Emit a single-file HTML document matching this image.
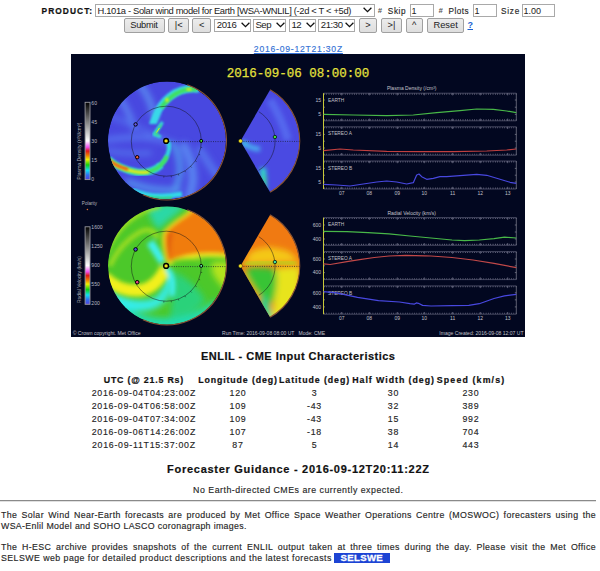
<!DOCTYPE html>
<html><head><meta charset="utf-8"><style>
html,body{margin:0;padding:0;background:#fff;}
body{width:600px;height:571px;position:relative;overflow:hidden;font-family:"Liberation Sans", sans-serif;}
.t{position:absolute;white-space:pre;line-height:1;}
.j{white-space:normal;text-align:justify;text-align-last:justify;}
</style></head><body>
<div class="t" style="left:41.60px;top:7.09px;font-size:8.4px;font-weight:bold;color:#111;letter-spacing:1.04px;font-family:'Liberation Sans', sans-serif;-webkit-text-stroke:0.2px #111;">PRODUCT:</div>
<div style="position:absolute;left:95px;top:4px;width:280.3px;height:13px;box-sizing:border-box;background:#fff;border:1px solid #a9a9a9;"></div>
<div class="t" style="left:97.50px;top:5.84px;font-size:9.4px;font-weight:normal;color:#222;letter-spacing:-0.34px;font-family:'Liberation Sans', sans-serif;">H.101a - Solar wind model for Earth [WSA-WNLIL] (-2d &lt; T &lt; +5d)</div>
<div style="position:absolute;left:363.4px;top:7.4px;line-height:0"><svg width="9" height="5.5" viewBox="0 0 9 5.5"><path d="M0.6 0.7 L4.5 4.6 L8.4 0.7" fill="none" stroke="#111" stroke-width="1.3"/></svg></div>
<div class="t" style="left:377.80px;top:6.57px;font-size:7.6px;font-weight:bold;color:#555;letter-spacing:0px;font-family:'Liberation Sans', sans-serif;font-style:italic;">#</div>
<div class="t" style="left:387.80px;top:8.06px;font-size:8.2px;font-weight:normal;color:#222;letter-spacing:0.62px;font-family:'Liberation Sans', sans-serif;-webkit-text-stroke:0.15px #333;">Skip</div>
<div style="position:absolute;left:409.6px;top:4px;width:24.799999999999955px;height:13.3px;box-sizing:border-box;background:#fff;border:1px solid #a9a9a9;"></div>
<div class="t" style="left:411.50px;top:6.78px;font-size:9px;font-weight:normal;color:#222;letter-spacing:0px;font-family:'Liberation Sans', sans-serif;">1</div>
<div class="t" style="left:438.40px;top:6.57px;font-size:7.6px;font-weight:bold;color:#555;letter-spacing:0px;font-family:'Liberation Sans', sans-serif;font-style:italic;">#</div>
<div class="t" style="left:448.50px;top:8.06px;font-size:8.2px;font-weight:normal;color:#222;letter-spacing:0.45px;font-family:'Liberation Sans', sans-serif;-webkit-text-stroke:0.15px #333;">Plots</div>
<div style="position:absolute;left:472.6px;top:4px;width:24.799999999999955px;height:13.3px;box-sizing:border-box;background:#fff;border:1px solid #a9a9a9;"></div>
<div class="t" style="left:474.50px;top:6.78px;font-size:9px;font-weight:normal;color:#222;letter-spacing:0px;font-family:'Liberation Sans', sans-serif;">1</div>
<div class="t" style="left:501.10px;top:8.06px;font-size:8.2px;font-weight:normal;color:#222;letter-spacing:0.75px;font-family:'Liberation Sans', sans-serif;-webkit-text-stroke:0.15px #333;">Size</div>
<div style="position:absolute;left:521.6px;top:4px;width:33.799999999999955px;height:13.3px;box-sizing:border-box;background:#fff;border:1px solid #a9a9a9;"></div>
<div class="t" style="left:523.50px;top:6.78px;font-size:9px;font-weight:normal;color:#222;letter-spacing:0px;font-family:'Liberation Sans', sans-serif;">1.00</div>
<div style="position:absolute;left:123.5px;top:17.8px;width:41.0px;height:14.999999999999996px;box-sizing:border-box;background:linear-gradient(#ececec,#dedede);border:1px solid #a0a0a0;border-radius:2px;"></div>
<div class="t" style="left:-156.15px;width:600px;text-align:center;top:20.93px;font-size:9.3px;font-weight:normal;color:#222;letter-spacing:-0.29px;font-family:'Liberation Sans', sans-serif;">Submit</div>
<div style="position:absolute;left:168.4px;top:17.8px;width:20.599999999999994px;height:14.999999999999996px;box-sizing:border-box;background:linear-gradient(#ececec,#dedede);border:1px solid #a0a0a0;border-radius:2px;"></div>
<div class="t" style="left:-121.30px;width:600px;text-align:center;top:20.93px;font-size:9.3px;font-weight:normal;color:#222;letter-spacing:0px;font-family:'Liberation Sans', sans-serif;">|&lt;</div>
<div style="position:absolute;left:192.4px;top:17.8px;width:18.599999999999994px;height:14.999999999999996px;box-sizing:border-box;background:linear-gradient(#ececec,#dedede);border:1px solid #a0a0a0;border-radius:2px;"></div>
<div class="t" style="left:-98.30px;width:600px;text-align:center;top:20.93px;font-size:9.3px;font-weight:normal;color:#222;letter-spacing:0px;font-family:'Liberation Sans', sans-serif;">&lt;</div>
<div style="position:absolute;left:214.4px;top:18.8px;width:36.599999999999994px;height:13.400000000000002px;box-sizing:border-box;background:#fff;border:1px solid #a9a9a9;"></div>
<div class="t" style="left:216.80px;top:20.47px;font-size:9.6px;font-weight:normal;color:#222;letter-spacing:-0.45px;font-family:'Liberation Sans', sans-serif;">2016</div>
<div style="position:absolute;left:241.2px;top:22.3px;line-height:0"><svg width="9" height="5.5" viewBox="0 0 9 5.5"><path d="M0.6 0.7 L4.5 4.6 L8.4 0.7" fill="none" stroke="#111" stroke-width="1.3"/></svg></div>
<div style="position:absolute;left:253px;top:18.8px;width:32.60000000000002px;height:13.400000000000002px;box-sizing:border-box;background:#fff;border:1px solid #a9a9a9;"></div>
<div class="t" style="left:255.40px;top:20.47px;font-size:9.6px;font-weight:normal;color:#222;letter-spacing:-0.45px;font-family:'Liberation Sans', sans-serif;">Sep</div>
<div style="position:absolute;left:275.8px;top:22.3px;line-height:0"><svg width="9" height="5.5" viewBox="0 0 9 5.5"><path d="M0.6 0.7 L4.5 4.6 L8.4 0.7" fill="none" stroke="#111" stroke-width="1.3"/></svg></div>
<div style="position:absolute;left:289px;top:18.8px;width:27px;height:13.400000000000002px;box-sizing:border-box;background:#fff;border:1px solid #a9a9a9;"></div>
<div class="t" style="left:291.40px;top:20.47px;font-size:9.6px;font-weight:normal;color:#222;letter-spacing:-0.45px;font-family:'Liberation Sans', sans-serif;">12</div>
<div style="position:absolute;left:306.2px;top:22.3px;line-height:0"><svg width="9" height="5.5" viewBox="0 0 9 5.5"><path d="M0.6 0.7 L4.5 4.6 L8.4 0.7" fill="none" stroke="#111" stroke-width="1.3"/></svg></div>
<div style="position:absolute;left:318.4px;top:18.8px;width:36.60000000000002px;height:13.400000000000002px;box-sizing:border-box;background:#fff;border:1px solid #a9a9a9;"></div>
<div class="t" style="left:320.80px;top:20.47px;font-size:9.6px;font-weight:normal;color:#222;letter-spacing:-0.45px;font-family:'Liberation Sans', sans-serif;">21:30</div>
<div style="position:absolute;left:345.2px;top:22.3px;line-height:0"><svg width="9" height="5.5" viewBox="0 0 9 5.5"><path d="M0.6 0.7 L4.5 4.6 L8.4 0.7" fill="none" stroke="#111" stroke-width="1.3"/></svg></div>
<div style="position:absolute;left:359px;top:17.8px;width:18px;height:14.999999999999996px;box-sizing:border-box;background:linear-gradient(#ececec,#dedede);border:1px solid #a0a0a0;border-radius:2px;"></div>
<div class="t" style="left:68.00px;width:600px;text-align:center;top:20.93px;font-size:9.3px;font-weight:normal;color:#222;letter-spacing:0px;font-family:'Liberation Sans', sans-serif;">&gt;</div>
<div style="position:absolute;left:381px;top:17.8px;width:21px;height:14.999999999999996px;box-sizing:border-box;background:linear-gradient(#ececec,#dedede);border:1px solid #a0a0a0;border-radius:2px;"></div>
<div class="t" style="left:91.50px;width:600px;text-align:center;top:20.93px;font-size:9.3px;font-weight:normal;color:#222;letter-spacing:0px;font-family:'Liberation Sans', sans-serif;">&gt;|</div>
<div style="position:absolute;left:405.6px;top:17.8px;width:17.399999999999977px;height:14.999999999999996px;box-sizing:border-box;background:linear-gradient(#ececec,#dedede);border:1px solid #a0a0a0;border-radius:2px;"></div>
<div class="t" style="left:114.30px;width:600px;text-align:center;top:20.93px;font-size:9.3px;font-weight:normal;color:#222;letter-spacing:0px;font-family:'Liberation Sans', sans-serif;">^</div>
<div style="position:absolute;left:427.3px;top:17.8px;width:36.69999999999999px;height:14.999999999999996px;box-sizing:border-box;background:linear-gradient(#ececec,#dedede);border:1px solid #a0a0a0;border-radius:2px;"></div>
<div class="t" style="left:145.65px;width:600px;text-align:center;top:20.93px;font-size:9.3px;font-weight:normal;color:#222;letter-spacing:0px;font-family:'Liberation Sans', sans-serif;">Reset</div>
<div class="t" style="left:467.50px;top:21.38px;font-size:9px;font-weight:bold;color:#1a5fd0;letter-spacing:0px;font-family:'Liberation Sans', sans-serif;"><u>?</u></div>
<div class="t" style="left:-1.61px;width:600px;text-align:center;top:44.72px;font-size:8.6px;font-weight:normal;color:#3572d6;letter-spacing:0.77px;font-family:'Liberation Sans', sans-serif;-webkit-text-stroke:0.15px #3572d6;"><u>2016-09-12T21:30Z</u></div>
<div style="position:absolute;left:71px;top:54px;width:454px;height:283px;background:#020720"></div>
<svg style="position:absolute;left:71px;top:54px" width="454" height="283" viewBox="71 54 454 283">
<defs>
<filter id="b1" x="-20%" y="-20%" width="140%" height="140%"><feGaussianBlur stdDeviation="1"/></filter>
<filter id="b2" x="-20%" y="-20%" width="140%" height="140%"><feGaussianBlur stdDeviation="2"/></filter>
<filter id="b3" x="-30%" y="-30%" width="160%" height="160%"><feGaussianBlur stdDeviation="3"/></filter>
<filter id="b4" x="-30%" y="-30%" width="160%" height="160%"><feGaussianBlur stdDeviation="4"/></filter>
<clipPath id="c1"><circle cx="167" cy="140.5" r="59"/></clipPath>
<clipPath id="c2"><circle cx="167" cy="265.5" r="59"/></clipPath>
<clipPath id="w1"><path d="M240.5 141 L270 89.9 A59 59 0 0 1 270 192.1 Z"/></clipPath>
<clipPath id="w2"><path d="M240.5 266 L270 214.9 A59 59 0 0 1 270 317.1 Z"/></clipPath>
<linearGradient id="cb1" x1="0" y1="0" x2="0" y2="1">
<stop offset="0" stop-color="#000"/><stop offset="0.25" stop-color="#808080"/><stop offset="0.5" stop-color="#fff"/>
<stop offset="0.58" stop-color="#f050f0"/><stop offset="0.63" stop-color="#e01818"/><stop offset="0.69" stop-color="#f08000"/>
<stop offset="0.74" stop-color="#f0f000"/><stop offset="0.81" stop-color="#10d010"/><stop offset="0.88" stop-color="#10e0f0"/>
<stop offset="0.94" stop-color="#3070f0"/><stop offset="1" stop-color="#5040e0"/>
</linearGradient>
</defs>
<rect x="71" y="54" width="454" height="283" fill="#020720"/>
<text x="226.7" y="76.6" font-family="Liberation Mono, monospace" font-size="12.5" fill="#e4e03c" stroke="#e4e03c" stroke-width="0.25">2016-09-06 08:00:00</text>
<rect x="85.1" y="102.3" width="4.9" height="77.3" fill="url(#cb1)" stroke="#9a9aa0" stroke-width="0.9"/>
<text x="91.3" y="104.8" font-family="Liberation Sans, sans-serif" font-size="5.1" fill="#b8b8c0">60</text>
<text x="91.3" y="123.8" font-family="Liberation Sans, sans-serif" font-size="5.1" fill="#b8b8c0">45</text>
<text x="91.3" y="142.8" font-family="Liberation Sans, sans-serif" font-size="5.1" fill="#b8b8c0">30</text>
<text x="91.3" y="161.7" font-family="Liberation Sans, sans-serif" font-size="5.1" fill="#b8b8c0">15</text>
<text x="91.3" y="180.7" font-family="Liberation Sans, sans-serif" font-size="5.1" fill="#b8b8c0">0</text>
<text transform="translate(81.3,151.2) rotate(-90)" text-anchor="middle" font-family="Liberation Sans, sans-serif" font-size="5.1" fill="#b0b0b8">Plasma Density (r²N/cm³)</text>
<rect x="85.1" y="226.8" width="4.9" height="77.5" fill="url(#cb1)" stroke="#9a9aa0" stroke-width="0.9"/>
<text x="91.3" y="229.3" font-family="Liberation Sans, sans-serif" font-size="5.1" fill="#b8b8c0">1600</text>
<text x="91.3" y="248.3" font-family="Liberation Sans, sans-serif" font-size="5.1" fill="#b8b8c0">1250</text>
<text x="91.3" y="267.4" font-family="Liberation Sans, sans-serif" font-size="5.1" fill="#b8b8c0">900</text>
<text x="91.3" y="286.4" font-family="Liberation Sans, sans-serif" font-size="5.1" fill="#b8b8c0">550</text>
<text x="91.3" y="305.4" font-family="Liberation Sans, sans-serif" font-size="5.1" fill="#b8b8c0">200</text>
<text transform="translate(81.3,279.5) rotate(-90)" text-anchor="middle" font-family="Liberation Sans, sans-serif" font-size="4.9" fill="#b0b0b8">Radial Velocity (km/s)</text>
<text x="89.5" y="205" text-anchor="middle" font-family="Liberation Sans, sans-serif" font-size="4.6" fill="#b0b0b8">Polarity</text>
<circle cx="87.4" cy="209.5" r="0.8" fill="#e07030"/>
<g clip-path="url(#c1)">
<circle cx="167" cy="140.5" r="59" fill="#4848e0"/>
<g filter="url(#b3)" fill="none" stroke-linecap="round">
<path d="M114 92 C124 102 130 114 134 128" stroke="#5a80f0" stroke-width="6"/>
<path d="M106 140 C120 138 135 136 150 138 C158 139 163 140 166 141" stroke="#5676f0" stroke-width="5"/>
<path d="M110 116 C125 122 140 128 152 134" stroke="#526eee" stroke-width="4"/>
<path d="M184 146 C190 156 193 166 193 180 C192 188 190 195 188 202" stroke="#5a88f2" stroke-width="8"/>
<path d="M172 143 C177 150 180 160 180 170 C180 176 178 182 176 188" stroke="#52a8f0" stroke-width="4.5"/>
<path d="M128 182 C145 189 160 191 178 190" stroke="#55a0f0" stroke-width="5"/>
<path d="M138 82 C148 94 152 104 154 116" stroke="#5a8af0" stroke-width="6"/>
<path d="M200 150 C210 165 215 175 226 184" stroke="#5474ee" stroke-width="7"/>
<path d="M108 151 C120 153 135 154 150 153" stroke="#5474ee" stroke-width="4"/>
</g>
<path d="M132 190 C145 196 160 198 182 194" stroke="#30d8e8" stroke-width="5" fill="none" filter="url(#b1)"/>
<path d="M142 196 C150 198 160 199 172 198" stroke="#30e080" stroke-width="3" fill="none" filter="url(#b1)"/>
<path d="M199 89 C188 87.5 178 90.5 170 96.5 C163 102 158 110 156 116 C154 121 153 123 153 124" stroke="#38d8e8" stroke-width="7.5" fill="none" filter="url(#b1)"/>
<path d="M197 89.3 C186 88.5 178 91.5 171 97 C166 101 163 105 161 108" stroke="#40e060" stroke-width="4.2" fill="none" filter="url(#b1)"/>
<ellipse cx="189" cy="89.3" rx="3" ry="1.4" fill="#d8f020" filter="url(#b1)"/>
<ellipse cx="167" cy="100" rx="1.6" ry="2.2" fill="#d0f020" filter="url(#b1)"/>
<path d="M162.5 122 L154 134.5 L161 137" stroke="#30d8e0" stroke-width="3.2" fill="none" stroke-linejoin="round" filter="url(#b1)"/>
<path d="M161.5 124.5 L155 134 L159 135.5" stroke="#40e070" stroke-width="1.6" fill="none" stroke-linejoin="round" filter="url(#b1)"/>
<path d="M159.5 128 L156.5 132.5" stroke="#d8e820" stroke-width="1" fill="none"/>
<path d="M108 159 C115 166 125 170 138 172.5 C148 173 156 170 161 165" stroke="#30d8e0" stroke-width="7" fill="none" filter="url(#b1)"/>
<path d="M158 167 C163 163 168 156 169 149 C169.5 145 168.5 142.5 167 141" stroke="#30d8e0" stroke-width="4" fill="none" filter="url(#b1)"/>
<path d="M108 159 C115 166 125 170 138 172.5 C148 173 156 170 161 165 C164 162 166 159 167 156" stroke="#40e060" stroke-width="4" fill="none" filter="url(#b1)"/>
<path d="M108 159.5 C115 166 124 169.5 134 171.5 C140 172.5 145 172.6 149 172" stroke="#e8e820" stroke-width="3.2" fill="none" filter="url(#b1)"/>
<path d="M108 159.5 C114 164.5 120 167.3 128 169.4" stroke="#f05818" stroke-width="2.8" fill="none" filter="url(#b1)"/>
</g>
<g clip-path="url(#c2)">
<circle cx="167" cy="265.5" r="59" fill="#4cc82a"/>
<g filter="url(#b3)">
<path d="M110 295 C125 310 145 318 165 318 C185 318 200 312 215 300 L235 330 L100 330 Z" fill="#22dcb0"/>
<path d="M175 272 C190 280 200 290 205 300 C200 310 185 318 170 318 Z" fill="#2cd27a"/>
<path d="M106 287 C120 298 140 304 155 298 C163 292 167 280 168 270 L172 272 C174 290 168 305 150 310 C130 314 115 305 104 298 Z" fill="#36eef0"/>
<path d="M212 262 L230 262 L230 292 C222 288 216 280 212 272 Z" fill="#b4e41c"/>
<path d="M146 204 L186 204 C182 210 176 215 170 219 C166 222 162 226 158 230 C152 222 148 212 146 204 Z" fill="#2ad8a6"/>
</g>
<g filter="url(#b2)">
<path d="M104 277 C114 287 128 292 142 290 C152 288 160 280 166 268" stroke="#f2f01e" stroke-width="12" fill="none"/>
<path d="M106 252 C112 236 124 222 140 213 C148 209 154 207 160 206" stroke="#a8e020" stroke-width="5" fill="none"/>
<path d="M110 266 C116 252 126 240 140 232 C148 228 154 230 158 238" stroke="#a0de20" stroke-width="4.5" fill="none"/>
<path d="M116 228 C124 218 134 211 146 208" stroke="#58cc24" stroke-width="3" fill="none"/>
<path d="M150 242 C154 248 158 254 163 262" stroke="#40f0ee" stroke-width="8" fill="none"/>
<path d="M167 268 C172 276 174 284 172 296" stroke="#40f0f0" stroke-width="5" fill="none"/>
</g>
<g filter="url(#b2)">
<path d="M167 263 C165 252 162 240 164 232 C168 226 176 221 184 216 C190 212 194 208 198 204 L232 204 L232 255 C215 252 195 252 170 262 Z" fill="#f07c10"/>
<path d="M168 262 C168 250 168 240 171 232" stroke="#e05a10" stroke-width="4" fill="none"/>
<path d="M167 262 C165 252 162 242 164 233 C170 225 178 220 186 215 C190 212 193 209 196 205" stroke="#f0dc20" stroke-width="3" fill="none"/>
<path d="M168 264 C182 256 200 253 228 256" stroke="#f0ea20" stroke-width="4" fill="none"/>
<path d="M172 262 C185 259 195 259 202 262" stroke="#6cd420" stroke-width="3.5" fill="none"/>
</g>
</g>
<g clip-path="url(#w1)">
<rect x="238" y="85" width="65" height="112" fill="#4a4ae2"/>
<g filter="url(#b2)">
<path d="M242 143 C248 146 252 149 260 149" stroke="#48b0f0" stroke-width="5" fill="none"/>
<path d="M242 142 L247 144" stroke="#30e0e0" stroke-width="3" fill="none"/>
<path d="M263 168 C263 176 265 184 263 194" stroke="#30d8c8" stroke-width="6" fill="none"/>
<path d="M264 176 C265 182 265 186 264 192" stroke="#40e070" stroke-width="2.5" fill="none"/>
<path d="M270 100 C280 115 285 130 288 140" stroke="#5468ee" stroke-width="8" fill="none"/>
</g>
</g>
<g clip-path="url(#w2)">
<rect x="238" y="210" width="65" height="112" fill="#f07a12"/>
<g filter="url(#b3)">
<path d="M250 252 C262 246 275 246 290 252 L300 262 L244 264 Z" fill="#f4c818"/>
<path d="M274 268 L300 266 L300 300 L280 322 L270 322 C276 300 276 282 274 268 Z" fill="#e8e41c"/>
<path d="M246 268 C256 266 268 266 276 270 C278 282 276 295 272 304 C262 300 252 286 246 274 Z" fill="#38c434"/>
<path d="M262 294 C266 298 270 304 272 320 L258 320 Z" fill="#22dc9a"/>
<path d="M243 272 C246 280 252 290 258 298" stroke="#e8b820" stroke-width="4" fill="none"/>
</g>
<g filter="url(#b2)">
<path d="M244 264.5 C256 262 270 262 296 263" stroke="#a8dc20" stroke-width="3" fill="none"/>
</g>
</g>
<path d="M187.3 84.8 A59.3 59.3 0 1 1 142.9 194.7" stroke="#8a5434" stroke-width="1.1" fill="none"/>
<circle cx="166.3" cy="141.2" r="35" stroke="#101018" stroke-width="0.6" fill="none" opacity="0.8"/>
<line x1="169.3" y1="141.6" x2="226" y2="141.6" stroke="#181830" stroke-width="0.9" stroke-dasharray="0.9 1.4" opacity="0.85"/>
<line x1="200.8" y1="147.3" x2="202.2" y2="147.5" stroke="#101018" stroke-width="0.5"/>
<line x1="198.8" y1="154.3" x2="200.1" y2="154.9" stroke="#101018" stroke-width="0.5"/>
<line x1="195.3" y1="160.8" x2="196.6" y2="161.6" stroke="#101018" stroke-width="0.5"/>
<line x1="190.6" y1="166.4" x2="191.7" y2="167.5" stroke="#101018" stroke-width="0.5"/>
<line x1="184.8" y1="170.9" x2="185.6" y2="172.2" stroke="#101018" stroke-width="0.5"/>
<line x1="178.3" y1="174.1" x2="178.8" y2="175.5" stroke="#101018" stroke-width="0.5"/>
<line x1="171.2" y1="175.9" x2="171.4" y2="177.3" stroke="#101018" stroke-width="0.5"/>
<line x1="163.9" y1="176.1" x2="163.8" y2="177.6" stroke="#101018" stroke-width="0.5"/>
<circle cx="166.1" cy="140.9" r="2.4" fill="#f0e020" stroke="#000" stroke-width="1.4"/>
<circle cx="201.2" cy="140.9" r="1.5" fill="#50e030" stroke="#000" stroke-width="1.0"/>
<circle cx="135.6" cy="124.4" r="1.7" fill="#6a5ae8" stroke="#000" stroke-width="1.0"/>
<circle cx="137.2" cy="157.2" r="1.7" fill="#f06040" stroke="#000" stroke-width="1.0"/>
<path d="M270.1 89.7 A59.2 59.2 0 0 1 270.1 192.3" stroke="#8a5434" stroke-width="1.1" fill="none"/>
<path d="M258.8 111.7 A34.5 34.5 0 0 1 258.8 170.3" stroke="#101018" stroke-width="0.6" fill="none" opacity="0.8"/>
<line x1="243.5" y1="141.4" x2="299.5" y2="141.4" stroke="#181830" stroke-width="0.9" stroke-dasharray="0.9 1.4" opacity="0.85"/>
<circle cx="240.5" cy="141" r="2" fill="#f0e020" stroke="#000" stroke-width="0.4"/>
<circle cx="274.9" cy="137" r="1.7" fill="#40e040" stroke="#000" stroke-width="0.7"/>
<path d="M187.3 209.8 A59.3 59.3 0 1 1 142.9 319.7" stroke="#8a5434" stroke-width="1.1" fill="none"/>
<circle cx="166.3" cy="266.2" r="35" stroke="#101018" stroke-width="0.6" fill="none" opacity="0.8"/>
<line x1="169.3" y1="266.59999999999997" x2="226" y2="266.59999999999997" stroke="#181830" stroke-width="0.9" stroke-dasharray="0.9 1.4" opacity="0.85"/>
<line x1="200.8" y1="272.3" x2="202.2" y2="272.5" stroke="#101018" stroke-width="0.5"/>
<line x1="198.8" y1="279.3" x2="200.1" y2="279.9" stroke="#101018" stroke-width="0.5"/>
<line x1="195.3" y1="285.8" x2="196.6" y2="286.6" stroke="#101018" stroke-width="0.5"/>
<line x1="190.6" y1="291.4" x2="191.7" y2="292.5" stroke="#101018" stroke-width="0.5"/>
<line x1="184.8" y1="295.9" x2="185.6" y2="297.2" stroke="#101018" stroke-width="0.5"/>
<line x1="178.3" y1="299.1" x2="178.8" y2="300.5" stroke="#101018" stroke-width="0.5"/>
<line x1="171.2" y1="300.9" x2="171.4" y2="302.3" stroke="#101018" stroke-width="0.5"/>
<line x1="163.9" y1="301.1" x2="163.8" y2="302.6" stroke="#101018" stroke-width="0.5"/>
<circle cx="166.1" cy="265.9" r="2.4" fill="#f0e020" stroke="#000" stroke-width="1.4"/>
<circle cx="201.2" cy="265.9" r="1.5" fill="#60e0a0" stroke="#000" stroke-width="1.0"/>
<circle cx="135.6" cy="249.4" r="1.8" fill="#5050e0" stroke="#000" stroke-width="1.0"/>
<circle cx="137.2" cy="282.2" r="1.8" fill="#e04080" stroke="#000" stroke-width="1.0"/>
<path d="M270.1 214.7 A59.2 59.2 0 0 1 270.1 317.3" stroke="#8a5434" stroke-width="1.1" fill="none"/>
<path d="M258.8 236.7 A34.5 34.5 0 0 1 258.8 295.3" stroke="#101018" stroke-width="0.6" fill="none" opacity="0.8"/>
<line x1="243.5" y1="266.4" x2="299.5" y2="266.4" stroke="#181830" stroke-width="0.9" stroke-dasharray="0.9 1.4" opacity="0.85"/>
<circle cx="240.5" cy="266" r="2" fill="#f0e020" stroke="#000" stroke-width="0.4"/>
<circle cx="274.9" cy="262" r="1.7" fill="#40e0a0" stroke="#000" stroke-width="0.7"/>
<text x="411.7" y="90.3" text-anchor="middle" font-family="Liberation Sans, sans-serif" font-size="5.05" fill="#c4c4cc">Plasma Density (/cm³)</text>
<line x1="323.5" y1="93.2" x2="516.3" y2="93.2" stroke="#70708a" stroke-width="0.6"/>
<line x1="324.1" y1="94.10000000000001" x2="516.3" y2="94.10000000000001" stroke="#8a8aa0" stroke-width="1.1" stroke-dasharray="0.6 1.71"/>
<line x1="341.7" y1="93.2" x2="341.7" y2="95.4" stroke="#9a9ab0" stroke-width="0.6"/>
<line x1="369.3" y1="93.2" x2="369.3" y2="95.4" stroke="#9a9ab0" stroke-width="0.6"/>
<line x1="397.3" y1="93.2" x2="397.3" y2="95.4" stroke="#9a9ab0" stroke-width="0.6"/>
<line x1="424.3" y1="93.2" x2="424.3" y2="95.4" stroke="#9a9ab0" stroke-width="0.6"/>
<line x1="452.7" y1="93.2" x2="452.7" y2="95.4" stroke="#9a9ab0" stroke-width="0.6"/>
<line x1="480.3" y1="93.2" x2="480.3" y2="95.4" stroke="#9a9ab0" stroke-width="0.6"/>
<line x1="507.7" y1="93.2" x2="507.7" y2="95.4" stroke="#9a9ab0" stroke-width="0.6"/>
<line x1="323.5" y1="120.8" x2="516.3" y2="120.8" stroke="#70708a" stroke-width="0.6"/>
<line x1="324.1" y1="119.89999999999999" x2="516.3" y2="119.89999999999999" stroke="#8a8aa0" stroke-width="1.1" stroke-dasharray="0.6 1.71"/>
<line x1="341.7" y1="120.8" x2="341.7" y2="118.6" stroke="#9a9ab0" stroke-width="0.6"/>
<line x1="369.3" y1="120.8" x2="369.3" y2="118.6" stroke="#9a9ab0" stroke-width="0.6"/>
<line x1="397.3" y1="120.8" x2="397.3" y2="118.6" stroke="#9a9ab0" stroke-width="0.6"/>
<line x1="424.3" y1="120.8" x2="424.3" y2="118.6" stroke="#9a9ab0" stroke-width="0.6"/>
<line x1="452.7" y1="120.8" x2="452.7" y2="118.6" stroke="#9a9ab0" stroke-width="0.6"/>
<line x1="480.3" y1="120.8" x2="480.3" y2="118.6" stroke="#9a9ab0" stroke-width="0.6"/>
<line x1="507.7" y1="120.8" x2="507.7" y2="118.6" stroke="#9a9ab0" stroke-width="0.6"/>
<line x1="516.3" y1="93.2" x2="516.3" y2="120.8" stroke="#9a9aa8" stroke-width="0.6"/>
<line x1="323.5" y1="100" x2="325.0" y2="100" stroke="#9a9aa8" stroke-width="0.6"/>
<line x1="516.3" y1="100" x2="514.8" y2="100" stroke="#9a9aa8" stroke-width="0.6"/>
<line x1="323.5" y1="107.2" x2="325.0" y2="107.2" stroke="#9a9aa8" stroke-width="0.6"/>
<line x1="516.3" y1="107.2" x2="514.8" y2="107.2" stroke="#9a9aa8" stroke-width="0.6"/>
<line x1="323.5" y1="114.4" x2="325.0" y2="114.4" stroke="#9a9aa8" stroke-width="0.6"/>
<line x1="516.3" y1="114.4" x2="514.8" y2="114.4" stroke="#9a9aa8" stroke-width="0.6"/>
<text x="328" y="101.8" font-family="Liberation Sans, sans-serif" font-size="4.8" fill="#c0c0c8">EARTH</text>
<text x="321" y="101.8" text-anchor="end" font-family="Liberation Sans, sans-serif" font-size="5" fill="#c0c0c8">15</text>
<text x="321" y="116.2" text-anchor="end" font-family="Liberation Sans, sans-serif" font-size="5" fill="#c0c0c8">5</text>
<line x1="323.5" y1="126.8" x2="516.3" y2="126.8" stroke="#70708a" stroke-width="0.6"/>
<line x1="324.1" y1="127.7" x2="516.3" y2="127.7" stroke="#8a8aa0" stroke-width="1.1" stroke-dasharray="0.6 1.71"/>
<line x1="341.7" y1="126.8" x2="341.7" y2="129.0" stroke="#9a9ab0" stroke-width="0.6"/>
<line x1="369.3" y1="126.8" x2="369.3" y2="129.0" stroke="#9a9ab0" stroke-width="0.6"/>
<line x1="397.3" y1="126.8" x2="397.3" y2="129.0" stroke="#9a9ab0" stroke-width="0.6"/>
<line x1="424.3" y1="126.8" x2="424.3" y2="129.0" stroke="#9a9ab0" stroke-width="0.6"/>
<line x1="452.7" y1="126.8" x2="452.7" y2="129.0" stroke="#9a9ab0" stroke-width="0.6"/>
<line x1="480.3" y1="126.8" x2="480.3" y2="129.0" stroke="#9a9ab0" stroke-width="0.6"/>
<line x1="507.7" y1="126.8" x2="507.7" y2="129.0" stroke="#9a9ab0" stroke-width="0.6"/>
<line x1="323.5" y1="155.2" x2="516.3" y2="155.2" stroke="#70708a" stroke-width="0.6"/>
<line x1="324.1" y1="154.29999999999998" x2="516.3" y2="154.29999999999998" stroke="#8a8aa0" stroke-width="1.1" stroke-dasharray="0.6 1.71"/>
<line x1="341.7" y1="155.2" x2="341.7" y2="153.0" stroke="#9a9ab0" stroke-width="0.6"/>
<line x1="369.3" y1="155.2" x2="369.3" y2="153.0" stroke="#9a9ab0" stroke-width="0.6"/>
<line x1="397.3" y1="155.2" x2="397.3" y2="153.0" stroke="#9a9ab0" stroke-width="0.6"/>
<line x1="424.3" y1="155.2" x2="424.3" y2="153.0" stroke="#9a9ab0" stroke-width="0.6"/>
<line x1="452.7" y1="155.2" x2="452.7" y2="153.0" stroke="#9a9ab0" stroke-width="0.6"/>
<line x1="480.3" y1="155.2" x2="480.3" y2="153.0" stroke="#9a9ab0" stroke-width="0.6"/>
<line x1="507.7" y1="155.2" x2="507.7" y2="153.0" stroke="#9a9ab0" stroke-width="0.6"/>
<line x1="516.3" y1="126.8" x2="516.3" y2="155.2" stroke="#9a9aa8" stroke-width="0.6"/>
<line x1="323.5" y1="134.4" x2="325.0" y2="134.4" stroke="#9a9aa8" stroke-width="0.6"/>
<line x1="516.3" y1="134.4" x2="514.8" y2="134.4" stroke="#9a9aa8" stroke-width="0.6"/>
<line x1="323.5" y1="141.2" x2="325.0" y2="141.2" stroke="#9a9aa8" stroke-width="0.6"/>
<line x1="516.3" y1="141.2" x2="514.8" y2="141.2" stroke="#9a9aa8" stroke-width="0.6"/>
<line x1="323.5" y1="148" x2="325.0" y2="148" stroke="#9a9aa8" stroke-width="0.6"/>
<line x1="516.3" y1="148" x2="514.8" y2="148" stroke="#9a9aa8" stroke-width="0.6"/>
<text x="328" y="135.4" font-family="Liberation Sans, sans-serif" font-size="4.8" fill="#c0c0c8">STEREO A</text>
<text x="321" y="136.20000000000002" text-anchor="end" font-family="Liberation Sans, sans-serif" font-size="5" fill="#c0c0c8">15</text>
<text x="321" y="149.8" text-anchor="end" font-family="Liberation Sans, sans-serif" font-size="5" fill="#c0c0c8">5</text>
<line x1="323.5" y1="161" x2="516.3" y2="161" stroke="#70708a" stroke-width="0.6"/>
<line x1="324.1" y1="161.9" x2="516.3" y2="161.9" stroke="#8a8aa0" stroke-width="1.1" stroke-dasharray="0.6 1.71"/>
<line x1="341.7" y1="161" x2="341.7" y2="163.2" stroke="#9a9ab0" stroke-width="0.6"/>
<line x1="369.3" y1="161" x2="369.3" y2="163.2" stroke="#9a9ab0" stroke-width="0.6"/>
<line x1="397.3" y1="161" x2="397.3" y2="163.2" stroke="#9a9ab0" stroke-width="0.6"/>
<line x1="424.3" y1="161" x2="424.3" y2="163.2" stroke="#9a9ab0" stroke-width="0.6"/>
<line x1="452.7" y1="161" x2="452.7" y2="163.2" stroke="#9a9ab0" stroke-width="0.6"/>
<line x1="480.3" y1="161" x2="480.3" y2="163.2" stroke="#9a9ab0" stroke-width="0.6"/>
<line x1="507.7" y1="161" x2="507.7" y2="163.2" stroke="#9a9ab0" stroke-width="0.6"/>
<line x1="323.5" y1="189" x2="516.3" y2="189" stroke="#70708a" stroke-width="0.6"/>
<line x1="324.1" y1="188.1" x2="516.3" y2="188.1" stroke="#8a8aa0" stroke-width="1.1" stroke-dasharray="0.6 1.71"/>
<line x1="341.7" y1="189" x2="341.7" y2="186.8" stroke="#9a9ab0" stroke-width="0.6"/>
<line x1="369.3" y1="189" x2="369.3" y2="186.8" stroke="#9a9ab0" stroke-width="0.6"/>
<line x1="397.3" y1="189" x2="397.3" y2="186.8" stroke="#9a9ab0" stroke-width="0.6"/>
<line x1="424.3" y1="189" x2="424.3" y2="186.8" stroke="#9a9ab0" stroke-width="0.6"/>
<line x1="452.7" y1="189" x2="452.7" y2="186.8" stroke="#9a9ab0" stroke-width="0.6"/>
<line x1="480.3" y1="189" x2="480.3" y2="186.8" stroke="#9a9ab0" stroke-width="0.6"/>
<line x1="507.7" y1="189" x2="507.7" y2="186.8" stroke="#9a9ab0" stroke-width="0.6"/>
<line x1="516.3" y1="161" x2="516.3" y2="189" stroke="#9a9aa8" stroke-width="0.6"/>
<line x1="323.5" y1="168.4" x2="325.0" y2="168.4" stroke="#9a9aa8" stroke-width="0.6"/>
<line x1="516.3" y1="168.4" x2="514.8" y2="168.4" stroke="#9a9aa8" stroke-width="0.6"/>
<line x1="323.5" y1="175.2" x2="325.0" y2="175.2" stroke="#9a9aa8" stroke-width="0.6"/>
<line x1="516.3" y1="175.2" x2="514.8" y2="175.2" stroke="#9a9aa8" stroke-width="0.6"/>
<line x1="323.5" y1="182" x2="325.0" y2="182" stroke="#9a9aa8" stroke-width="0.6"/>
<line x1="516.3" y1="182" x2="514.8" y2="182" stroke="#9a9aa8" stroke-width="0.6"/>
<text x="328" y="169.6" font-family="Liberation Sans, sans-serif" font-size="4.8" fill="#c0c0c8">STEREO B</text>
<text x="321" y="170.20000000000002" text-anchor="end" font-family="Liberation Sans, sans-serif" font-size="5" fill="#c0c0c8">15</text>
<text x="321" y="183.8" text-anchor="end" font-family="Liberation Sans, sans-serif" font-size="5" fill="#c0c0c8">5</text>
<line x1="323.5" y1="93.2" x2="323.5" y2="189" stroke="#c8c838" stroke-width="1"/>
<path d="M323.5 114.3 L353.3 115.0 L386.7 115.7 L413.3 115.0 L436.7 112.7 L460.0 110.7 L476.7 109.0 L493.3 109.3 L506.7 111.0 L516.3 112.7" stroke="#48b848" stroke-width="1.2" fill="none" stroke-linejoin="round"/>
<path d="M323.5 150.7 L340.0 149.0 L353.3 150.0 L386.7 151.3 L420.0 151.7 L453.3 151.7 L486.7 151.0 L506.7 150.0 L516.3 149.0" stroke="#c04040" stroke-width="1.2" fill="none" stroke-linejoin="round"/>
<path d="M323.5 184.3 L336.7 185.0 L350.0 186.0 L363.3 184.0 L376.7 182.0 L386.7 181.0 L396.7 182.0 L406.7 184.0 L413.3 182.7 L416.7 175.0 L419.0 174.0 L421.7 176.7 L426.7 179.3 L433.3 178.3 L440.0 176.7 L446.7 176.7 L460.0 175.7 L476.7 174.3 L486.7 175.3 L500.0 179.3 L510.0 182.3 L516.3 183.3" stroke="#4848e0" stroke-width="1.2" fill="none" stroke-linejoin="round"/>
<text x="341.7" y="195" text-anchor="middle" font-family="Liberation Sans, sans-serif" font-size="5" fill="#c0c0c8">07</text>
<text x="369.3" y="195" text-anchor="middle" font-family="Liberation Sans, sans-serif" font-size="5" fill="#c0c0c8">08</text>
<text x="397.3" y="195" text-anchor="middle" font-family="Liberation Sans, sans-serif" font-size="5" fill="#c0c0c8">09</text>
<text x="424.3" y="195" text-anchor="middle" font-family="Liberation Sans, sans-serif" font-size="5" fill="#c0c0c8">10</text>
<text x="452.7" y="195" text-anchor="middle" font-family="Liberation Sans, sans-serif" font-size="5" fill="#c0c0c8">11</text>
<text x="480.3" y="195" text-anchor="middle" font-family="Liberation Sans, sans-serif" font-size="5" fill="#c0c0c8">12</text>
<text x="507.7" y="195" text-anchor="middle" font-family="Liberation Sans, sans-serif" font-size="5" fill="#c0c0c8">13</text>
<text x="411.7" y="215.3" text-anchor="middle" font-family="Liberation Sans, sans-serif" font-size="5.05" fill="#c4c4cc">Radial Velocity (km/s)</text>
<line x1="323.5" y1="217.6" x2="516.3" y2="217.6" stroke="#70708a" stroke-width="0.6"/>
<line x1="324.1" y1="218.5" x2="516.3" y2="218.5" stroke="#8a8aa0" stroke-width="1.1" stroke-dasharray="0.6 1.71"/>
<line x1="341.7" y1="217.6" x2="341.7" y2="219.79999999999998" stroke="#9a9ab0" stroke-width="0.6"/>
<line x1="369.3" y1="217.6" x2="369.3" y2="219.79999999999998" stroke="#9a9ab0" stroke-width="0.6"/>
<line x1="397.3" y1="217.6" x2="397.3" y2="219.79999999999998" stroke="#9a9ab0" stroke-width="0.6"/>
<line x1="424.3" y1="217.6" x2="424.3" y2="219.79999999999998" stroke="#9a9ab0" stroke-width="0.6"/>
<line x1="452.7" y1="217.6" x2="452.7" y2="219.79999999999998" stroke="#9a9ab0" stroke-width="0.6"/>
<line x1="480.3" y1="217.6" x2="480.3" y2="219.79999999999998" stroke="#9a9ab0" stroke-width="0.6"/>
<line x1="507.7" y1="217.6" x2="507.7" y2="219.79999999999998" stroke="#9a9ab0" stroke-width="0.6"/>
<line x1="323.5" y1="245.3" x2="516.3" y2="245.3" stroke="#70708a" stroke-width="0.6"/>
<line x1="324.1" y1="244.4" x2="516.3" y2="244.4" stroke="#8a8aa0" stroke-width="1.1" stroke-dasharray="0.6 1.71"/>
<line x1="341.7" y1="245.3" x2="341.7" y2="243.10000000000002" stroke="#9a9ab0" stroke-width="0.6"/>
<line x1="369.3" y1="245.3" x2="369.3" y2="243.10000000000002" stroke="#9a9ab0" stroke-width="0.6"/>
<line x1="397.3" y1="245.3" x2="397.3" y2="243.10000000000002" stroke="#9a9ab0" stroke-width="0.6"/>
<line x1="424.3" y1="245.3" x2="424.3" y2="243.10000000000002" stroke="#9a9ab0" stroke-width="0.6"/>
<line x1="452.7" y1="245.3" x2="452.7" y2="243.10000000000002" stroke="#9a9ab0" stroke-width="0.6"/>
<line x1="480.3" y1="245.3" x2="480.3" y2="243.10000000000002" stroke="#9a9ab0" stroke-width="0.6"/>
<line x1="507.7" y1="245.3" x2="507.7" y2="243.10000000000002" stroke="#9a9ab0" stroke-width="0.6"/>
<line x1="516.3" y1="217.6" x2="516.3" y2="245.3" stroke="#9a9aa8" stroke-width="0.6"/>
<line x1="323.5" y1="225" x2="325.0" y2="225" stroke="#9a9aa8" stroke-width="0.6"/>
<line x1="516.3" y1="225" x2="514.8" y2="225" stroke="#9a9aa8" stroke-width="0.6"/>
<line x1="323.5" y1="232.0" x2="325.0" y2="232.0" stroke="#9a9aa8" stroke-width="0.6"/>
<line x1="516.3" y1="232.0" x2="514.8" y2="232.0" stroke="#9a9aa8" stroke-width="0.6"/>
<line x1="323.5" y1="239" x2="325.0" y2="239" stroke="#9a9aa8" stroke-width="0.6"/>
<line x1="516.3" y1="239" x2="514.8" y2="239" stroke="#9a9aa8" stroke-width="0.6"/>
<text x="328" y="226.2" font-family="Liberation Sans, sans-serif" font-size="4.8" fill="#c0c0c8">EARTH</text>
<text x="321" y="226.8" text-anchor="end" font-family="Liberation Sans, sans-serif" font-size="5" fill="#c0c0c8">600</text>
<text x="321" y="240.8" text-anchor="end" font-family="Liberation Sans, sans-serif" font-size="5" fill="#c0c0c8">400</text>
<line x1="323.5" y1="251.6" x2="516.3" y2="251.6" stroke="#70708a" stroke-width="0.6"/>
<line x1="324.1" y1="252.5" x2="516.3" y2="252.5" stroke="#8a8aa0" stroke-width="1.1" stroke-dasharray="0.6 1.71"/>
<line x1="341.7" y1="251.6" x2="341.7" y2="253.79999999999998" stroke="#9a9ab0" stroke-width="0.6"/>
<line x1="369.3" y1="251.6" x2="369.3" y2="253.79999999999998" stroke="#9a9ab0" stroke-width="0.6"/>
<line x1="397.3" y1="251.6" x2="397.3" y2="253.79999999999998" stroke="#9a9ab0" stroke-width="0.6"/>
<line x1="424.3" y1="251.6" x2="424.3" y2="253.79999999999998" stroke="#9a9ab0" stroke-width="0.6"/>
<line x1="452.7" y1="251.6" x2="452.7" y2="253.79999999999998" stroke="#9a9ab0" stroke-width="0.6"/>
<line x1="480.3" y1="251.6" x2="480.3" y2="253.79999999999998" stroke="#9a9ab0" stroke-width="0.6"/>
<line x1="507.7" y1="251.6" x2="507.7" y2="253.79999999999998" stroke="#9a9ab0" stroke-width="0.6"/>
<line x1="323.5" y1="279.6" x2="516.3" y2="279.6" stroke="#70708a" stroke-width="0.6"/>
<line x1="324.1" y1="278.70000000000005" x2="516.3" y2="278.70000000000005" stroke="#8a8aa0" stroke-width="1.1" stroke-dasharray="0.6 1.71"/>
<line x1="341.7" y1="279.6" x2="341.7" y2="277.40000000000003" stroke="#9a9ab0" stroke-width="0.6"/>
<line x1="369.3" y1="279.6" x2="369.3" y2="277.40000000000003" stroke="#9a9ab0" stroke-width="0.6"/>
<line x1="397.3" y1="279.6" x2="397.3" y2="277.40000000000003" stroke="#9a9ab0" stroke-width="0.6"/>
<line x1="424.3" y1="279.6" x2="424.3" y2="277.40000000000003" stroke="#9a9ab0" stroke-width="0.6"/>
<line x1="452.7" y1="279.6" x2="452.7" y2="277.40000000000003" stroke="#9a9ab0" stroke-width="0.6"/>
<line x1="480.3" y1="279.6" x2="480.3" y2="277.40000000000003" stroke="#9a9ab0" stroke-width="0.6"/>
<line x1="507.7" y1="279.6" x2="507.7" y2="277.40000000000003" stroke="#9a9ab0" stroke-width="0.6"/>
<line x1="516.3" y1="251.6" x2="516.3" y2="279.6" stroke="#9a9aa8" stroke-width="0.6"/>
<line x1="323.5" y1="259" x2="325.0" y2="259" stroke="#9a9aa8" stroke-width="0.6"/>
<line x1="516.3" y1="259" x2="514.8" y2="259" stroke="#9a9aa8" stroke-width="0.6"/>
<line x1="323.5" y1="265.8" x2="325.0" y2="265.8" stroke="#9a9aa8" stroke-width="0.6"/>
<line x1="516.3" y1="265.8" x2="514.8" y2="265.8" stroke="#9a9aa8" stroke-width="0.6"/>
<line x1="323.5" y1="272.6" x2="325.0" y2="272.6" stroke="#9a9aa8" stroke-width="0.6"/>
<line x1="516.3" y1="272.6" x2="514.8" y2="272.6" stroke="#9a9aa8" stroke-width="0.6"/>
<text x="328" y="260.2" font-family="Liberation Sans, sans-serif" font-size="4.8" fill="#c0c0c8">STEREO A</text>
<text x="321" y="260.8" text-anchor="end" font-family="Liberation Sans, sans-serif" font-size="5" fill="#c0c0c8">600</text>
<text x="321" y="274.40000000000003" text-anchor="end" font-family="Liberation Sans, sans-serif" font-size="5" fill="#c0c0c8">400</text>
<line x1="323.5" y1="285.9" x2="516.3" y2="285.9" stroke="#70708a" stroke-width="0.6"/>
<line x1="324.1" y1="286.79999999999995" x2="516.3" y2="286.79999999999995" stroke="#8a8aa0" stroke-width="1.1" stroke-dasharray="0.6 1.71"/>
<line x1="341.7" y1="285.9" x2="341.7" y2="288.09999999999997" stroke="#9a9ab0" stroke-width="0.6"/>
<line x1="369.3" y1="285.9" x2="369.3" y2="288.09999999999997" stroke="#9a9ab0" stroke-width="0.6"/>
<line x1="397.3" y1="285.9" x2="397.3" y2="288.09999999999997" stroke="#9a9ab0" stroke-width="0.6"/>
<line x1="424.3" y1="285.9" x2="424.3" y2="288.09999999999997" stroke="#9a9ab0" stroke-width="0.6"/>
<line x1="452.7" y1="285.9" x2="452.7" y2="288.09999999999997" stroke="#9a9ab0" stroke-width="0.6"/>
<line x1="480.3" y1="285.9" x2="480.3" y2="288.09999999999997" stroke="#9a9ab0" stroke-width="0.6"/>
<line x1="507.7" y1="285.9" x2="507.7" y2="288.09999999999997" stroke="#9a9ab0" stroke-width="0.6"/>
<line x1="323.5" y1="314.2" x2="516.3" y2="314.2" stroke="#70708a" stroke-width="0.6"/>
<line x1="324.1" y1="313.3" x2="516.3" y2="313.3" stroke="#8a8aa0" stroke-width="1.1" stroke-dasharray="0.6 1.71"/>
<line x1="341.7" y1="314.2" x2="341.7" y2="312.0" stroke="#9a9ab0" stroke-width="0.6"/>
<line x1="369.3" y1="314.2" x2="369.3" y2="312.0" stroke="#9a9ab0" stroke-width="0.6"/>
<line x1="397.3" y1="314.2" x2="397.3" y2="312.0" stroke="#9a9ab0" stroke-width="0.6"/>
<line x1="424.3" y1="314.2" x2="424.3" y2="312.0" stroke="#9a9ab0" stroke-width="0.6"/>
<line x1="452.7" y1="314.2" x2="452.7" y2="312.0" stroke="#9a9ab0" stroke-width="0.6"/>
<line x1="480.3" y1="314.2" x2="480.3" y2="312.0" stroke="#9a9ab0" stroke-width="0.6"/>
<line x1="507.7" y1="314.2" x2="507.7" y2="312.0" stroke="#9a9ab0" stroke-width="0.6"/>
<line x1="516.3" y1="285.9" x2="516.3" y2="314.2" stroke="#9a9aa8" stroke-width="0.6"/>
<line x1="323.5" y1="292.8" x2="325.0" y2="292.8" stroke="#9a9aa8" stroke-width="0.6"/>
<line x1="516.3" y1="292.8" x2="514.8" y2="292.8" stroke="#9a9aa8" stroke-width="0.6"/>
<line x1="323.5" y1="299.85" x2="325.0" y2="299.85" stroke="#9a9aa8" stroke-width="0.6"/>
<line x1="516.3" y1="299.85" x2="514.8" y2="299.85" stroke="#9a9aa8" stroke-width="0.6"/>
<line x1="323.5" y1="306.9" x2="325.0" y2="306.9" stroke="#9a9aa8" stroke-width="0.6"/>
<line x1="516.3" y1="306.9" x2="514.8" y2="306.9" stroke="#9a9aa8" stroke-width="0.6"/>
<text x="328" y="294.5" font-family="Liberation Sans, sans-serif" font-size="4.8" fill="#c0c0c8">STEREO B</text>
<text x="321" y="294.6" text-anchor="end" font-family="Liberation Sans, sans-serif" font-size="5" fill="#c0c0c8">600</text>
<text x="321" y="308.7" text-anchor="end" font-family="Liberation Sans, sans-serif" font-size="5" fill="#c0c0c8">400</text>
<line x1="323.5" y1="217.6" x2="323.5" y2="314.2" stroke="#c8c838" stroke-width="1"/>
<path d="M323.5 231.3 L347.0 231.7 L368.0 232.7 L389.0 233.8 L410.0 236.0 L431.0 238.0 L452.0 240.0 L464.6 240.7 L479.3 240.0 L494.0 238.6 L504.5 237.1 L516.3 238.0" stroke="#48b848" stroke-width="1.2" fill="none" stroke-linejoin="round"/>
<path d="M323.5 263.8 L330.2 264.5 L347.0 261.7 L359.6 259.6 L374.3 257.5 L389.0 256.0 L405.8 255.4 L425.0 255.8 L431.0 256.0 L452.0 257.5 L473.0 260.0 L494.0 263.4 L516.3 267.6" stroke="#c04848" stroke-width="1.2" fill="none" stroke-linejoin="round"/>
<path d="M323.5 291.6 L336.5 292.8 L357.5 297.4 L378.5 300.6 L399.5 302.0 L410.0 303.7 L414.2 304.2 L416.3 302.9 L418.4 303.3 L422.6 305.4 L431.0 306.0 L452.0 305.6 L468.8 305.4 L479.3 303.7 L494.0 298.5 L504.5 295.8 L516.3 294.3" stroke="#4848e0" stroke-width="1.2" fill="none" stroke-linejoin="round"/>
<text x="341.7" y="320.2" text-anchor="middle" font-family="Liberation Sans, sans-serif" font-size="5" fill="#c0c0c8">07</text>
<text x="369.3" y="320.2" text-anchor="middle" font-family="Liberation Sans, sans-serif" font-size="5" fill="#c0c0c8">08</text>
<text x="397.3" y="320.2" text-anchor="middle" font-family="Liberation Sans, sans-serif" font-size="5" fill="#c0c0c8">09</text>
<text x="424.3" y="320.2" text-anchor="middle" font-family="Liberation Sans, sans-serif" font-size="5" fill="#c0c0c8">10</text>
<text x="452.7" y="320.2" text-anchor="middle" font-family="Liberation Sans, sans-serif" font-size="5" fill="#c0c0c8">11</text>
<text x="480.3" y="320.2" text-anchor="middle" font-family="Liberation Sans, sans-serif" font-size="5" fill="#c0c0c8">12</text>
<text x="507.7" y="320.2" text-anchor="middle" font-family="Liberation Sans, sans-serif" font-size="5" fill="#c0c0c8">13</text>
<text x="72.7" y="335" font-family="Liberation Sans, sans-serif" font-size="5.1" fill="#c0c0c8">© Crown copyright. Met Office</text>
<text x="222" y="335" font-family="Liberation Sans, sans-serif" font-size="5.05" fill="#c0c0c8" xml:space="preserve">Run Time: 2016-09-08 08:00 UT   Mode: CME</text>
<text x="523.5" y="335" text-anchor="end" font-family="Liberation Sans, sans-serif" font-size="5.05" fill="#c0c0c8">Image Created: 2016-09-08 12:07 UT</text>
</svg>
<div class="t" style="left:-1.75px;width:600px;text-align:center;top:351.29px;font-size:11px;font-weight:bold;color:#111;letter-spacing:0.49px;font-family:'Liberation Sans', sans-serif;-webkit-text-stroke:0.2px #111;">ENLIL - CME Input Characteristics</div>
<div class="t" style="left:-156.10px;width:600px;text-align:center;top:375.85px;font-size:8.8px;font-weight:bold;color:#111;letter-spacing:0.8px;font-family:'Liberation Sans', sans-serif;-webkit-text-stroke:0.2px #111;">UTC (@ 21.5 Rs)</div>
<div class="t" style="left:-61.96px;width:600px;text-align:center;top:375.85px;font-size:8.8px;font-weight:bold;color:#111;letter-spacing:0.88px;font-family:'Liberation Sans', sans-serif;-webkit-text-stroke:0.2px #111;">Longitude (deg)</div>
<div class="t" style="left:14.56px;width:600px;text-align:center;top:375.85px;font-size:8.8px;font-weight:bold;color:#111;letter-spacing:0.92px;font-family:'Liberation Sans', sans-serif;-webkit-text-stroke:0.2px #111;">Latitude (deg)</div>
<div class="t" style="left:93.58px;width:600px;text-align:center;top:375.85px;font-size:8.8px;font-weight:bold;color:#111;letter-spacing:0.95px;font-family:'Liberation Sans', sans-serif;-webkit-text-stroke:0.2px #111;">Half Width (deg)</div>
<div class="t" style="left:171.07px;width:600px;text-align:center;top:375.85px;font-size:8.8px;font-weight:bold;color:#111;letter-spacing:1.14px;font-family:'Liberation Sans', sans-serif;-webkit-text-stroke:0.2px #111;">Speed (km/s)</div>
<div class="t" style="left:-156.14px;width:600px;text-align:center;top:388.95px;font-size:8.8px;font-weight:normal;color:#222;letter-spacing:0.72px;font-family:'Liberation Sans', sans-serif;-webkit-text-stroke:0.15px #333;">2016-09-04T04:23:00Z</div>
<div class="t" style="left:-62.04px;width:600px;text-align:center;top:388.95px;font-size:8.8px;font-weight:normal;color:#222;letter-spacing:0.72px;font-family:'Liberation Sans', sans-serif;-webkit-text-stroke:0.15px #333;">120</div>
<div class="t" style="left:14.46px;width:600px;text-align:center;top:388.95px;font-size:8.8px;font-weight:normal;color:#222;letter-spacing:0.72px;font-family:'Liberation Sans', sans-serif;-webkit-text-stroke:0.15px #333;">3</div>
<div class="t" style="left:93.46px;width:600px;text-align:center;top:388.95px;font-size:8.8px;font-weight:normal;color:#222;letter-spacing:0.72px;font-family:'Liberation Sans', sans-serif;-webkit-text-stroke:0.15px #333;">30</div>
<div class="t" style="left:170.86px;width:600px;text-align:center;top:388.95px;font-size:8.8px;font-weight:normal;color:#222;letter-spacing:0.72px;font-family:'Liberation Sans', sans-serif;-webkit-text-stroke:0.15px #333;">230</div>
<div class="t" style="left:-156.14px;width:600px;text-align:center;top:402.00px;font-size:8.8px;font-weight:normal;color:#222;letter-spacing:0.72px;font-family:'Liberation Sans', sans-serif;-webkit-text-stroke:0.15px #333;">2016-09-04T06:58:00Z</div>
<div class="t" style="left:-62.04px;width:600px;text-align:center;top:402.00px;font-size:8.8px;font-weight:normal;color:#222;letter-spacing:0.72px;font-family:'Liberation Sans', sans-serif;-webkit-text-stroke:0.15px #333;">109</div>
<div class="t" style="left:14.46px;width:600px;text-align:center;top:402.00px;font-size:8.8px;font-weight:normal;color:#222;letter-spacing:0.72px;font-family:'Liberation Sans', sans-serif;-webkit-text-stroke:0.15px #333;">-43</div>
<div class="t" style="left:93.46px;width:600px;text-align:center;top:402.00px;font-size:8.8px;font-weight:normal;color:#222;letter-spacing:0.72px;font-family:'Liberation Sans', sans-serif;-webkit-text-stroke:0.15px #333;">32</div>
<div class="t" style="left:170.86px;width:600px;text-align:center;top:402.00px;font-size:8.8px;font-weight:normal;color:#222;letter-spacing:0.72px;font-family:'Liberation Sans', sans-serif;-webkit-text-stroke:0.15px #333;">389</div>
<div class="t" style="left:-156.14px;width:600px;text-align:center;top:415.05px;font-size:8.8px;font-weight:normal;color:#222;letter-spacing:0.72px;font-family:'Liberation Sans', sans-serif;-webkit-text-stroke:0.15px #333;">2016-09-04T07:34:00Z</div>
<div class="t" style="left:-62.04px;width:600px;text-align:center;top:415.05px;font-size:8.8px;font-weight:normal;color:#222;letter-spacing:0.72px;font-family:'Liberation Sans', sans-serif;-webkit-text-stroke:0.15px #333;">109</div>
<div class="t" style="left:14.46px;width:600px;text-align:center;top:415.05px;font-size:8.8px;font-weight:normal;color:#222;letter-spacing:0.72px;font-family:'Liberation Sans', sans-serif;-webkit-text-stroke:0.15px #333;">-43</div>
<div class="t" style="left:93.46px;width:600px;text-align:center;top:415.05px;font-size:8.8px;font-weight:normal;color:#222;letter-spacing:0.72px;font-family:'Liberation Sans', sans-serif;-webkit-text-stroke:0.15px #333;">15</div>
<div class="t" style="left:170.86px;width:600px;text-align:center;top:415.05px;font-size:8.8px;font-weight:normal;color:#222;letter-spacing:0.72px;font-family:'Liberation Sans', sans-serif;-webkit-text-stroke:0.15px #333;">992</div>
<div class="t" style="left:-156.14px;width:600px;text-align:center;top:428.10px;font-size:8.8px;font-weight:normal;color:#222;letter-spacing:0.72px;font-family:'Liberation Sans', sans-serif;-webkit-text-stroke:0.15px #333;">2016-09-06T14:26:00Z</div>
<div class="t" style="left:-62.04px;width:600px;text-align:center;top:428.10px;font-size:8.8px;font-weight:normal;color:#222;letter-spacing:0.72px;font-family:'Liberation Sans', sans-serif;-webkit-text-stroke:0.15px #333;">107</div>
<div class="t" style="left:14.46px;width:600px;text-align:center;top:428.10px;font-size:8.8px;font-weight:normal;color:#222;letter-spacing:0.72px;font-family:'Liberation Sans', sans-serif;-webkit-text-stroke:0.15px #333;">-18</div>
<div class="t" style="left:93.46px;width:600px;text-align:center;top:428.10px;font-size:8.8px;font-weight:normal;color:#222;letter-spacing:0.72px;font-family:'Liberation Sans', sans-serif;-webkit-text-stroke:0.15px #333;">38</div>
<div class="t" style="left:170.86px;width:600px;text-align:center;top:428.10px;font-size:8.8px;font-weight:normal;color:#222;letter-spacing:0.72px;font-family:'Liberation Sans', sans-serif;-webkit-text-stroke:0.15px #333;">704</div>
<div class="t" style="left:-156.14px;width:600px;text-align:center;top:441.15px;font-size:8.8px;font-weight:normal;color:#222;letter-spacing:0.72px;font-family:'Liberation Sans', sans-serif;-webkit-text-stroke:0.15px #333;">2016-09-11T15:37:00Z</div>
<div class="t" style="left:-62.04px;width:600px;text-align:center;top:441.15px;font-size:8.8px;font-weight:normal;color:#222;letter-spacing:0.72px;font-family:'Liberation Sans', sans-serif;-webkit-text-stroke:0.15px #333;">87</div>
<div class="t" style="left:14.46px;width:600px;text-align:center;top:441.15px;font-size:8.8px;font-weight:normal;color:#222;letter-spacing:0.72px;font-family:'Liberation Sans', sans-serif;-webkit-text-stroke:0.15px #333;">5</div>
<div class="t" style="left:93.46px;width:600px;text-align:center;top:441.15px;font-size:8.8px;font-weight:normal;color:#222;letter-spacing:0.72px;font-family:'Liberation Sans', sans-serif;-webkit-text-stroke:0.15px #333;">14</div>
<div class="t" style="left:170.86px;width:600px;text-align:center;top:441.15px;font-size:8.8px;font-weight:normal;color:#222;letter-spacing:0.72px;font-family:'Liberation Sans', sans-serif;-webkit-text-stroke:0.15px #333;">443</div>
<div class="t" style="left:-1.64px;width:600px;text-align:center;top:463.69px;font-size:11px;font-weight:bold;color:#111;letter-spacing:0.72px;font-family:'Liberation Sans', sans-serif;-webkit-text-stroke:0.2px #111;">Forecaster Guidance - 2016-09-12T20:11:22Z</div>
<div class="t" style="left:-1.75px;width:600px;text-align:center;top:486.35px;font-size:8.8px;font-weight:normal;color:#222;letter-spacing:0.5px;font-family:'Liberation Sans', sans-serif;-webkit-text-stroke:0.15px #333;">No Earth-directed CMEs are currently expected.</div>
<div style="position:absolute;left:0;top:500px;width:596px;height:1px;background:#8a8a8a"></div>
<div style="position:absolute;left:0;top:501px;width:596px;height:1px;background:#e0e0e0"></div>
<div class="t j" style="left:1px;top:510.75px;width:595px;font-size:8.8px;color:#222;letter-spacing:0.38px;-webkit-text-stroke:0.15px #333">The Solar Wind Near-Earth forecasts are produced by Met Office Space Weather Operations Centre (MOSWOC) forecasters using the</div>
<div class="t" style="left:1px;top:521.75px;font-size:8.8px;color:#222;letter-spacing:0.34px;-webkit-text-stroke:0.15px #333">WSA-Enlil Model and SOHO LASCO coronagraph images.</div>
<div class="t j" style="left:1px;top:542.55px;width:595px;font-size:8.8px;color:#222;letter-spacing:0.38px;-webkit-text-stroke:0.15px #333">The H-ESC archive provides snapshots of the current ENLIL output taken at three times during the day. Please visit the Met Office</div>
<div class="t" style="left:1px;top:553.55px;font-size:8.8px;color:#222;letter-spacing:0.445px;-webkit-text-stroke:0.15px #333">SELSWE web page for detailed product descriptions and the latest forecasts</div>
<div style="position:absolute;left:333.6px;top:553px;width:56.0px;height:9.600000000000023px;box-sizing:border-box;background:#1d44d4;"></div>
<div class="t" style="left:61.78px;width:600px;text-align:center;top:553.47px;font-size:9.6px;font-weight:bold;color:#fff;letter-spacing:0.35px;font-family:'Liberation Sans', sans-serif;-webkit-text-stroke:0.3px #fff;">SELSWE</div>
</body></html>
